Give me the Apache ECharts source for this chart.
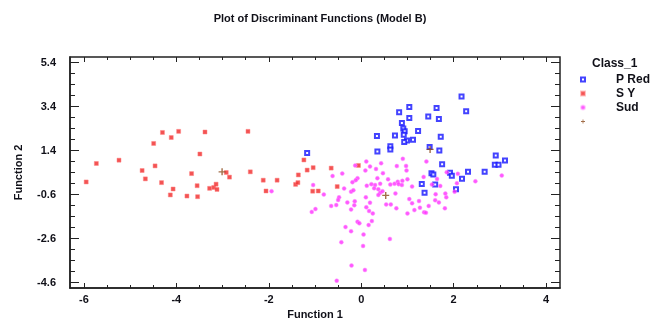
<!DOCTYPE html>
<html>
<head>
<meta charset="utf-8">
<script src="https://cdn.jsdelivr.net/npm/echarts@6/dist/echarts.min.js"></script>
<style>
  html, body { margin: 0; padding: 0; background: #fff; }
  #chart { width: 651px; height: 321px; }
</style>
</head>
<body>
<div id="chart"></div>
<script>
// 分类名称
const classNames = ['P Red', 'S Y', 'Sud', ' ']

// 刻度
const xMajor = [-6, -4, -2, 0, 2, 4]
const xMinor = [-6, -5.5, -5, -4.5, -4, -3.5, -3, -2.5, -2, -1.5, -1, -0.5, 0, 0.5, 1, 1.5, 2, 2.5, 3, 3.5, 4]
const yMajor = [-4.6, -2.6, -0.6, 1.4, 3.4, 5.4]
const yMinor = [-4.6, -4.1, -3.6, -3.1, -2.6, -2.1, -1.6, -1.1, -0.6, -0.1, 0.4, 0.9, 1.4, 1.9, 2.4, 2.9, 3.4, 3.9, 4.4, 4.9, 5.4]

// P Red
const pRed = [
  [2.17, 3.85], [1.04, 3.38], [1.63, 3.33], [0.82, 3.14], [2.27, 3.18], [1.04, 2.88],
  [1.45, 2.95], [1.68, 2.83], [0.88, 2.65], [0.91, 2.40], [1.23, 2.29], [0.94, 2.27],
  [0.92, 2.12], [0.73, 2.08], [0.34, 2.06], [1.72, 2.03], [1.12, 1.89], [0.99, 1.85],
  [0.93, 1.79], [0.63, 1.59], [0.63, 1.45], [0.35, 1.36], [1.48, 1.56], [1.69, 1.40],
  [-1.17, 1.29], [1.75, 0.78], [2.91, 1.17], [3.11, 0.95], [2.89, 0.75], [2.97, 0.75],
  [2.67, 0.43], [2.31, 0.43], [1.92, 0.39], [1.96, 0.25], [1.52, 0.37], [1.56, 0.31],
  [2.18, 0.12], [1.31, -0.12], [1.60, -0.15], [2.05, -0.36], [1.37, -0.52]
]

// S Y
const sY = [
  [-5.95, -0.03], [-5.73, 0.81], [-5.24, 0.96], [-4.74, 0.49], [-4.67, 0.11], [-4.49, 1.72],
  [-4.46, 0.70], [-4.30, 2.22], [-4.32, -0.06], [-4.11, 1.99], [-4.07, -0.35], [-4.13, -0.62],
  [-3.95, 2.27], [-3.77, -0.67], [-3.67, 0.35], [-3.55, -0.20], [-3.54, -0.70], [-3.49, 1.24],
  [-3.38, 2.24], [-3.28, -0.32], [-3.19, -0.28], [-3.14, -0.13], [-3.12, -0.37], [-2.92, 0.40],
  [-2.85, 0.19], [-2.45, 2.27], [-2.40, 0.43], [-2.12, 0.05], [-2.06, -0.44], [-1.82, 0.05],
  [-1.42, -0.14], [-1.37, -0.06], [-1.36, 0.29], [-1.24, 0.97], [-1.17, 0.51], [-1.04, 0.62],
  [-1.05, -0.45], [-0.93, -0.44], [-0.65, 0.60], [-0.52, -0.24], [-0.06, 0.72]
]

// Sud
const sud = [
  [0.11, 0.90], [0.43, 0.82], [0.90, 1.02], [1.41, 0.90], [-0.13, 0.72], [0.19, 0.67],
  [0.77, 0.69], [0.97, 0.70], [-0.62, 0.24], [-0.41, 0.35], [0.32, 0.56], [0.09, 0.49],
  [0.47, 0.37], [0.98, 0.49], [-0.08, 0.14], [-0.12, 0.05], [-0.19, -0.04], [0.35, 0.14],
  [0.58, 0.09], [0.89, 0.02], [1.00, 0.09], [1.35, 0.20], [1.85, 0.41], [2.09, 0.34],
  [3.04, 0.26], [1.64, 0.11], [2.07, -0.09], [2.47, 0.00], [1.53, -0.15], [1.71, -0.21],
  [2.02, -0.47], [-1.04, -0.17], [-1.94, -0.45], [-0.37, -0.33], [-0.22, -0.47], [-0.17, -0.41],
  [0.12, -0.20], [0.22, -0.13], [0.30, -0.17], [0.41, -0.11], [0.28, -0.32], [0.37, -0.36],
  [0.63, -0.15], [0.72, -0.11], [0.79, -0.02], [0.81, -0.13], [0.88, -0.17], [1.10, -0.24],
  [0.41, -0.52], [0.46, -0.45], [-0.48, -0.73], [-0.50, -0.85], [-0.30, -0.96], [-0.14, -0.91],
  [-0.15, -1.09], [-0.22, -1.28], [-0.65, -1.12], [-0.54, -1.08], [-1.07, -1.39], [-0.99, -1.26],
  [0.10, -0.73], [0.19, -0.97], [0.11, -1.18], [0.17, -1.35], [0.25, -1.46], [0.37, -0.62],
  [0.54, -1.05], [0.64, -1.05], [0.76, -1.23], [1.04, -0.81], [1.10, -1.00], [1.25, -0.90],
  [1.00, -1.46], [1.15, -1.31], [1.27, -1.20], [1.36, -1.41], [-0.08, -1.84], [-0.04, -1.91],
  [0.23, -1.81], [0.16, -1.99], [-0.34, -2.08], [-0.22, -2.27], [0.05, -2.42], [0.62, -2.62],
  [-0.43, -2.77], [0.04, -2.94], [-0.21, -3.83], [0.08, -4.03], [-0.53, -4.52], [1.61, -0.59],
  [1.82, -0.56], [1.84, -0.73], [1.60, -0.86], [1.68, -0.96], [1.46, -1.12], [1.40, -1.43],
  [1.81, -1.23], [0.74, -0.55], [-0.81, -0.60]
]

// 组中心
const centroids = [[-3.01, 0.43], [1.49, 1.45], [0.53, -0.64]]

const txt = '#101018'
const fontFamily = 'Liberation Sans, Arial, sans-serif'
const plus = 'path://M4,0h2v4h4v2h-4v4h-2v-4h-4v-2h4z'
const lbl = { color: txt, fontWeight: 'bold', fontSize: 11, fontFamily }

const xr = { min: -6.3, max: 4.3 }
const yr = { min: -4.85, max: 5.65 }

// 每组刻度放在一个独立的 grid 上，位置重叠
const gridBox = { left: 70, right: 91, top: 57, bottom: 33, outerBoundsMode: 'none', containLabel: false }
const tickSets = [
  { x: ['bottom', xMajor, 5], y: ['left', yMajor, 9] },
  { x: ['bottom', xMinor, 3], y: ['left', yMinor, 5] },
  { x: ['top', xMajor, 5], y: ['right', yMajor, 9] },
  { x: ['top', xMinor, 3], y: ['right', yMinor, 5] }
]

function tickAxis (idx, def, range, extra) {
  return Object.assign({
    type: 'value',
    gridIndex: idx,
    position: def[0],
    axisLine: { show: idx === 0, onZero: false, lineStyle: { color: '#222', width: 1.5 } },
    axisTick: { show: true, inside: true, length: def[2], customValues: def[1], lineStyle: { color: '#222', width: 1 } },
    axisLabel: { show: false },
    splitLine: { show: false }
  }, range, extra)
}

const grids = tickSets.map((t, i) => Object.assign({}, gridBox, i === 0 ? { show: true, borderColor: '#222', borderWidth: 1.5 } : {}))
const xAxes = tickSets.map((t, i) => tickAxis(i, t.x, xr, i === 0 ? {
  name: 'Function 1', nameLocation: 'middle', nameGap: 21, nameTextStyle: lbl,
  axisLabel: Object.assign({ show: true, customValues: xMajor, margin: 6 }, lbl)
} : {}))
const yAxes = tickSets.map((t, i) => tickAxis(i, t.y, yr, i === 0 ? {
  name: 'Function 2', nameLocation: 'middle', nameGap: 46, nameTextStyle: lbl,
  axisLabel: Object.assign({ show: true, customValues: yMajor, margin: 14 }, lbl)
} : {}))

const option = {
  animation: false,
  backgroundColor: '#fff',
  title: {
    text: 'Plot of Discriminant Functions (Model B)',
    left: 315,
    top: 8,
    textAlign: 'center',
    textStyle: { color: txt, fontWeight: 'bold', fontSize: 11, fontFamily }
  },
  grid: grids,
  legend: {
    orient: 'vertical',
    left: 575,
    top: 68,
    itemWidth: 4,
    itemHeight: 4,
    itemGap: 1,
    data: classNames,
    textStyle: { color: txt, fontWeight: 'bold', fontSize: 12, lineHeight: 13, fontFamily, padding: [0, 0, 0, 26] }
  },
  graphic: [{
    type: 'text', left: 592, top: 58,
    style: { text: 'Class_1', fill: txt, font: 'bold 12px Liberation Sans, Arial, sans-serif' }
  }],
  xAxis: xAxes,
  yAxis: yAxes,
  series: [
    {
      name: classNames[0], type: 'scatter', data: pRed, symbol: 'emptyRect', symbolSize: 4,
      itemStyle: { color: '#1414ff', borderColor: '#1414ff', borderWidth: 1.2 }
    },
    {
      name: classNames[1], type: 'scatter', data: sY, symbol: 'rect', symbolSize: 4,
      itemStyle: { color: '#f02828', borderColor: 'rgba(255,130,130,0.6)', borderWidth: 1 }
    },
    {
      name: classNames[2], type: 'scatter', data: sud, symbol: 'circle', symbolSize: 4,
      itemStyle: { color: '#ff30ff', borderColor: 'rgba(255,150,255,0.6)', borderWidth: 1 }
    },
    {
      name: classNames[3], type: 'scatter', data: centroids, symbol: plus, symbolSize: 7,
      itemStyle: { color: '#8b4a1c' }
    }
  ]
}

const chart = echarts.init(document.getElementById('chart'))
chart.setOption(option)
</script>
</body>
</html>
